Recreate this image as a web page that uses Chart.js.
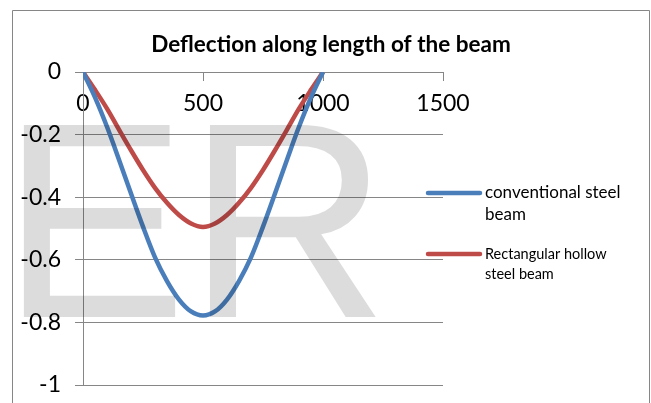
<!DOCTYPE html>
<html>
<head>
<meta charset="utf-8">
<script src="https://cdn.jsdelivr.net/npm/chart.js@4.4.1/dist/chart.umd.min.js"></script>
<style>
  html, body { margin: 0; padding: 0; background: #ffffff; }
  #wrap { position: relative; width: 651px; height: 403px; overflow: hidden; }
  canvas { display: block; }
</style>
</head>
<body>
<div id="wrap"><canvas id="chart" width="651" height="403"></canvas></div>
<script>
// ---- data ----
const chartTitle = 'Deflection along length of the beam';
const seriesNames = ['conventional steel beam', 'Rectangular hollow steel beam'];
const positions = [0, 50, 100, 150, 200, 250, 300, 350, 400, 450, 500, 550, 600, 650, 700, 750, 800, 850, 900, 950, 1000];
const conventionalSteel = [0, -0.081, -0.175, -0.28, -0.388, -0.494, -0.592, -0.668, -0.727, -0.765, -0.778, -0.765, -0.727, -0.668, -0.592, -0.494, -0.388, -0.28, -0.175, -0.081, 0];
const rectangularHollow = [0, -0.057, -0.117, -0.184, -0.25, -0.313, -0.37, -0.418, -0.457, -0.484, -0.495, -0.484, -0.457, -0.418, -0.37, -0.313, -0.25, -0.184, -0.117, -0.057, 0];
const xTickValues = [0, 500, 1000, 1500];
const yTickValues = [0, -0.2, -0.4, -0.6, -0.8, -1];
const watermarkText = 'ER';

// ---- styling ----
const BLUE = '#4A7EBB';
const RED = '#BE4B48';
const GRID = '#868686';
const FONT = 'Lato, "Open Sans", sans-serif';

const pts = arr => positions.map((x, i) => ({ x: x, y: arr[i] }));

const frame = {
  id: 'frame',
  beforeDraw(chart) {
    const ctx = chart.ctx;
    ctx.save();
    ctx.fillStyle = '#ffffff';
    ctx.fillRect(0, 0, chart.width, chart.height);
    ctx.strokeStyle = GRID;
    ctx.lineWidth = 1;
    ctx.beginPath();
    ctx.moveTo(12.5, chart.height + 2);
    ctx.lineTo(12.5, 10.5);
    ctx.lineTo(649.5, 10.5);
    ctx.lineTo(649.5, chart.height + 2);
    ctx.stroke();
    ctx.restore();
  }
};

// vertical value axis line, at x = 0, spanning the y scale's range
const valueAxisLine = {
  id: 'valueAxisLine',
  beforeDatasetsDraw(chart) {
    const xs = chart.scales.x, ys = chart.scales.y;
    const px = Math.round(xs.getPixelForValue(0)) + 0.5;
    const top = Math.round(ys.getPixelForValue(ys.max));
    const bottom = Math.round(ys.getPixelForValue(ys.min)) + 0.5;
    const ctx = chart.ctx;
    ctx.save();
    ctx.strokeStyle = GRID;
    ctx.lineWidth = 1;
    ctx.beginPath();
    ctx.moveTo(px, top);
    ctx.lineTo(px, bottom);
    ctx.stroke();
    ctx.restore();
  }
};

const watermark = {
  id: 'watermark',
  afterDraw(chart) {
    const ctx = chart.ctx;
    ctx.save();
    ctx.globalCompositeOperation = 'multiply';
    ctx.fillStyle = '#dcdcdc';
    ctx.font = '279px "Liberation Sans", Arial, sans-serif';
    ctx.textBaseline = 'alphabetic';
    ctx.textAlign = 'left';
    ctx.fillText(watermarkText, 1, 317);
    ctx.restore();
  }
};

function wrapWords(ctx, text, maxW) {
  const words = text.split(' ');
  const lines = [];
  let cur = '';
  for (const w of words) {
    const test = cur ? cur + ' ' + w : w;
    if (cur && ctx.measureText(test).width > maxW) { lines.push(cur); cur = w; }
    else cur = test;
  }
  if (cur) lines.push(cur);
  return lines;
}

const sideLegend = {
  id: 'sideLegend',
  afterDraw(chart) {
    const ctx = chart.ctx;
    const specs = [
      { y: 193, size: 17, lh: 22 },
      { y: 254, size: 14.5, lh: 20.5 }
    ];
    ctx.save();
    chart.data.datasets.forEach((ds, i) => {
      const s = specs[i];
      ctx.strokeStyle = ds.borderColor;
      ctx.lineWidth = 4.5;
      ctx.lineCap = 'round';
      ctx.beginPath();
      ctx.moveTo(428, s.y);
      ctx.lineTo(480, s.y);
      ctx.stroke();
      ctx.fillStyle = '#000000';
      ctx.font = s.size + 'px ' + FONT;
      ctx.textBaseline = 'middle';
      ctx.textAlign = 'left';
      const lines = wrapWords(ctx, ds.label, 150);
      lines.forEach((ln, k) => ctx.fillText(ln, 485, s.y + k * s.lh));
    });
    ctx.restore();
  }
};

new Chart(document.getElementById('chart'), {
  type: 'scatter',
  data: {
    datasets: [
      { label: seriesNames[0], data: pts(conventionalSteel), showLine: true, borderColor: BLUE, backgroundColor: BLUE,
        borderWidth: 4.5, pointRadius: 0, pointHoverRadius: 0, cubicInterpolationMode: 'monotone', fill: false },
      { label: seriesNames[1], data: pts(rectangularHollow), showLine: true, borderColor: RED, backgroundColor: RED,
        borderWidth: 4.5, pointRadius: 0, pointHoverRadius: 0, cubicInterpolationMode: 'monotone', fill: false }
    ]
  },
  options: {
    responsive: false,
    animation: false,
    devicePixelRatio: 1,
    layout: { padding: { left: 11, right: 0, top: 0, bottom: 18 } },
    plugins: {
      legend: { display: false },
      tooltip: { enabled: false },
      title: {
        display: true,
        text: chartTitle,
        color: '#000000',
        font: { family: FONT, size: 22.5, weight: 'bold' },
        padding: { top: 31.5, bottom: 13.5 }
      }
    },
    scales: {
      x: {
        type: 'linear',
        position: { y: 0 },
        min: 0, max: 1500,
        afterBuildTicks: s => { s.ticks = xTickValues.map(v => ({ value: v })); },
        afterFit: s => { s.paddingTop = 0; s.paddingBottom = 0; },
        ticks: { color: '#000000', font: { family: FONT, size: 23 }, padding: 10, maxRotation: 0,
                 callback: v => String(v) },
        grid: {
          drawOnChartArea: false, drawTicks: true, tickLength: 8,
          color: GRID,
          tickColor: c => (c.tick && c.tick.value === 0) ? 'rgba(0,0,0,0)' : GRID
        },
        border: { display: true, color: GRID }
      },
      y: {
        type: 'linear',
        position: 'left',
        min: -1, max: 0,
        afterBuildTicks: s => { s.ticks = yTickValues.map(v => ({ value: v })); },
        afterFit: s => { s.width = 72; s.paddingTop = 0; s.paddingBottom = 0; },
        ticks: { color: '#000000', font: { family: FONT, size: 23 }, padding: 14,
                 callback: v => String(Math.round(v * 10) / 10) },
        grid: { color: GRID, tickLength: 8, lineWidth: 1 },
        border: { display: false }
      },
      spacer: {
        type: 'linear',
        axis: 'y',
        position: 'right',
        display: true,
        afterFit: s => { s.width = 208; s.paddingTop = 0; s.paddingBottom = 0; },
        ticks: { display: false },
        grid: { display: false, drawTicks: false },
        border: { display: false }
      }
    }
  },
  plugins: [frame, valueAxisLine, watermark, sideLegend]
});
</script>
</body>
</html>
